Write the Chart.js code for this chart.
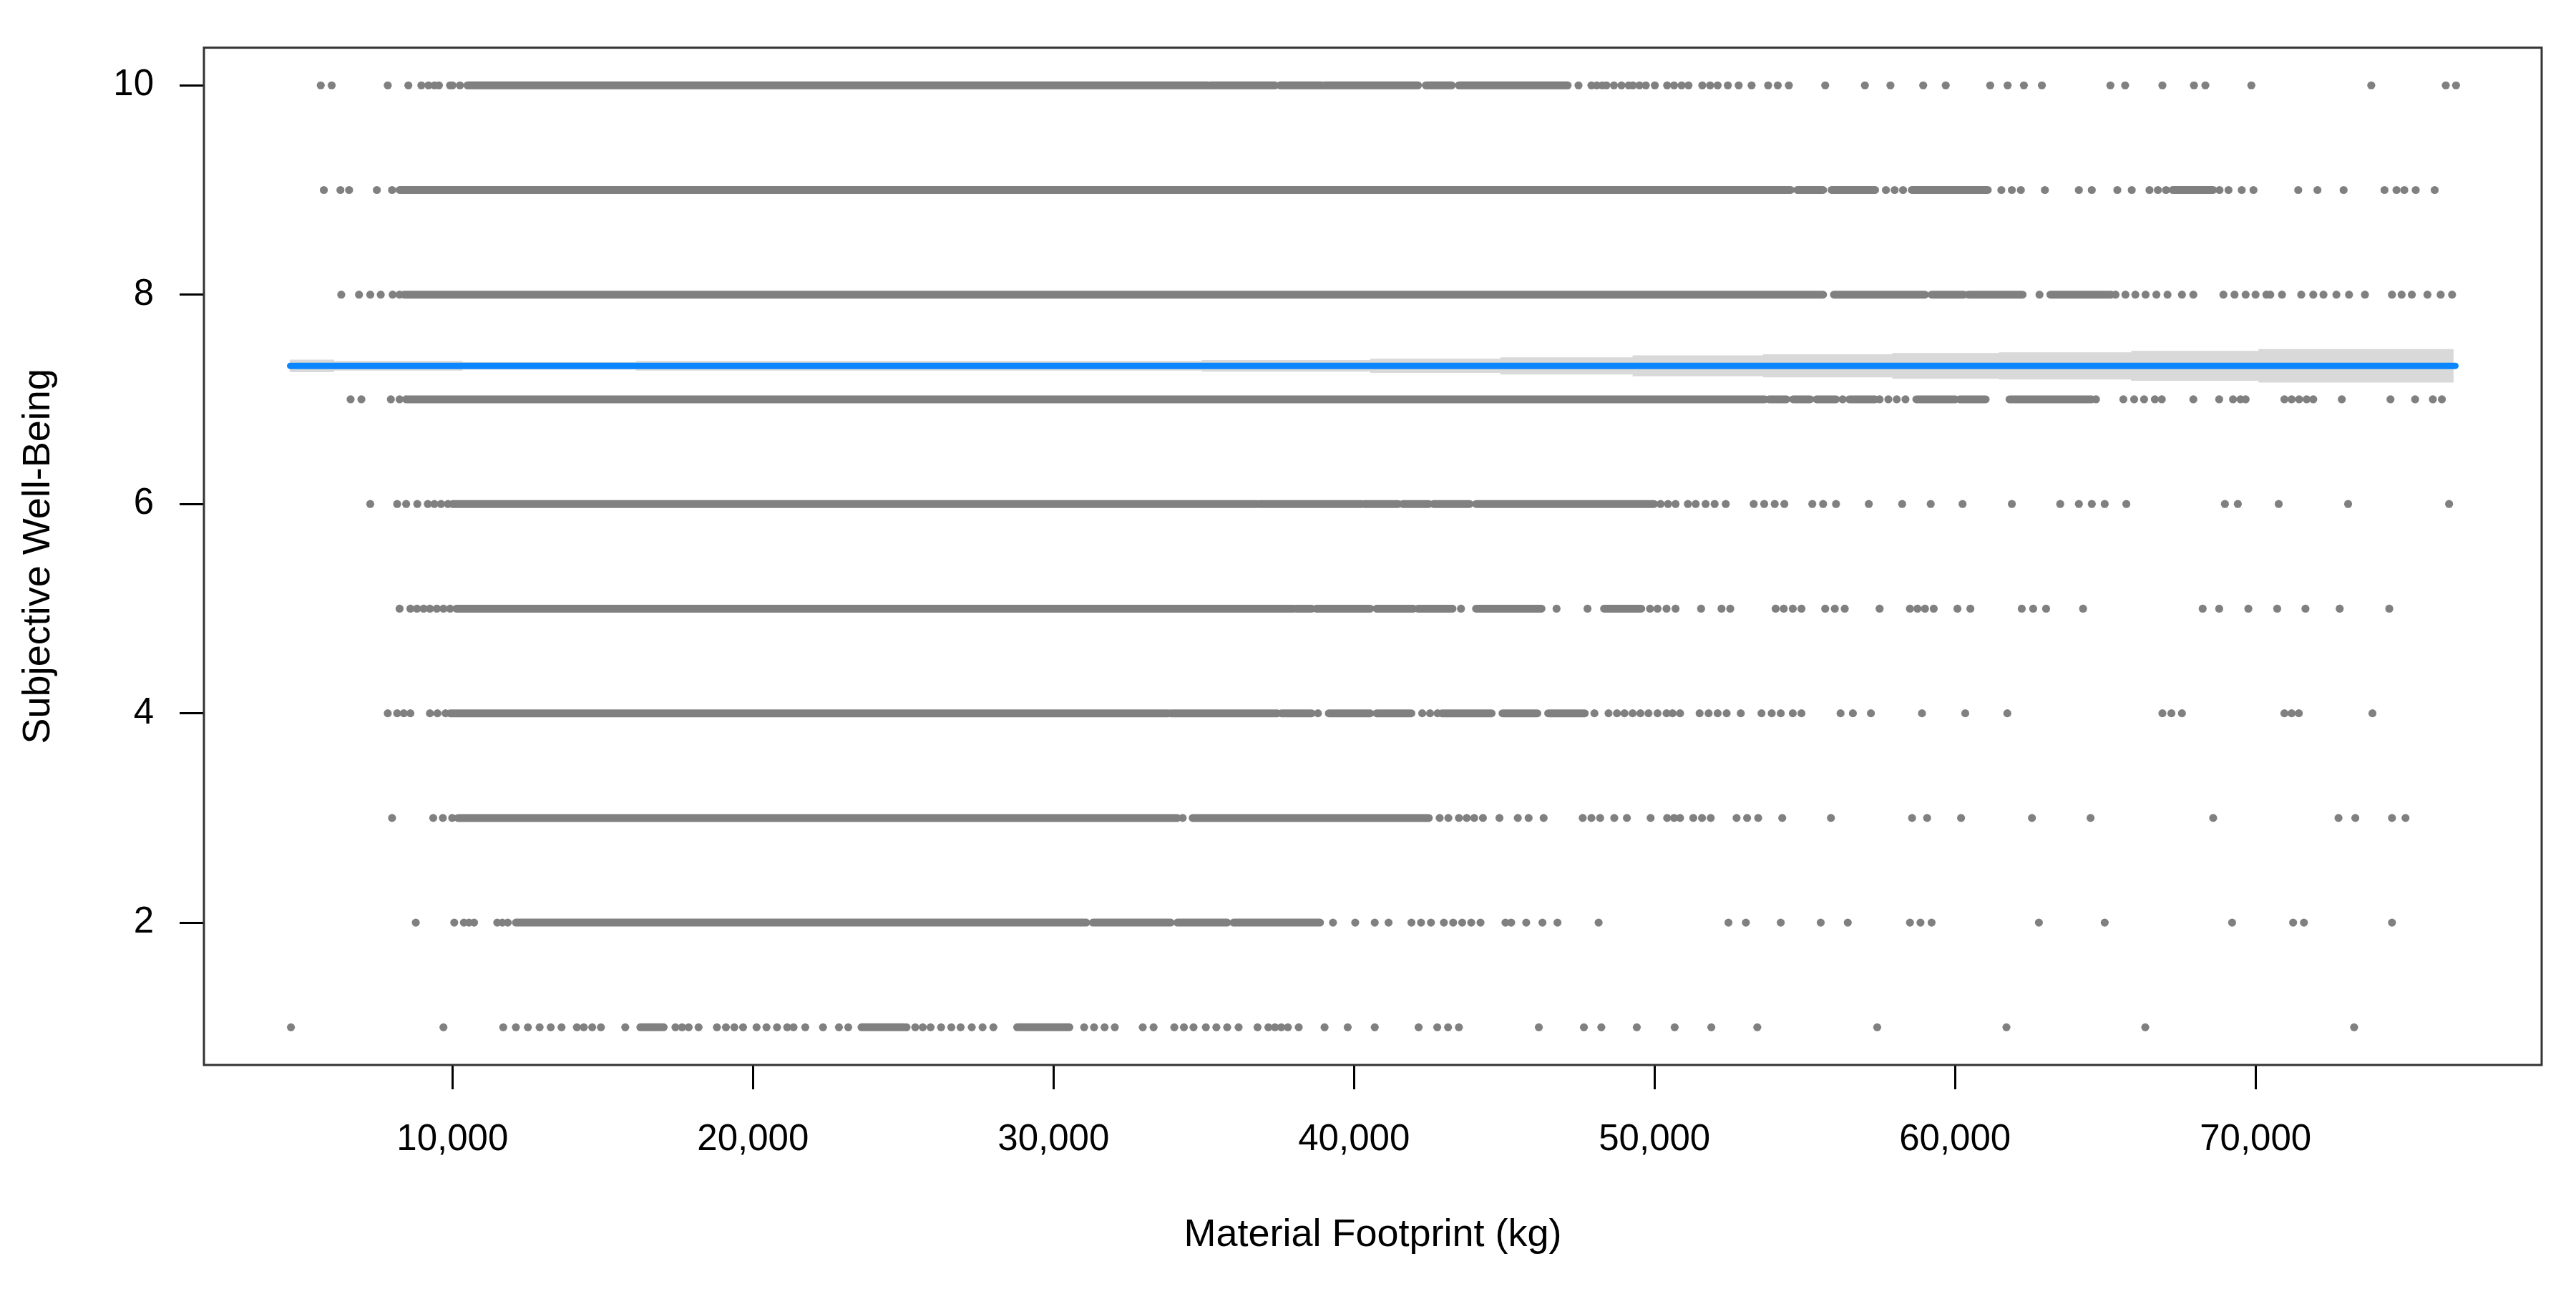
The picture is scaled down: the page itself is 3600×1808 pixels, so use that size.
<!DOCTYPE html>
<html>
<head>
<meta charset="utf-8">
<script src="https://cdn.jsdelivr.net/npm/chart.js@4.4.1/dist/chart.umd.min.js"></script>
<style>
html,body{margin:0;padding:0;background:#fff;}
#wrap{width:3600px;height:1808px;}
</style>
</head>
<body>
<div id="wrap"><canvas id="c" width="3600" height="1808"></canvas></div>
<script>
// ---- axis settings ----
const xTickValues = [10000, 20000, 30000, 40000, 50000, 60000, 70000];
const yTickValues = [2, 4, 6, 8, 10];
const xTitle = 'Material Footprint (kg)';
const yTitle = 'Subjective Well-Being';

// ---- observations: isolated points per response level ----
const row10Points = [5617, 5981, 7847, 8532, 8965, 9200, 9405, 9550, 9920, 10000, 10250, 47470, 47900, 48080, 48260, 48400, 48650, 48900, 49140, 49280, 49500, 49710, 50010, 50420, 50650, 50900, 51130, 51590, 51850, 52100, 52440, 52800, 53230, 53780, 54100, 54470, 55680, 57000, 57850, 58940, 59690, 61170, 61750, 62290, 62890, 65170, 65660, 66900, 67950, 68330, 69860, 73850, 76330, 76670];
const row9Points = [5720, 6272, 6561, 7483, 7990, 57700, 57990, 58270, 61540, 61890, 62190, 62990, 64120, 64550, 65400, 65880, 66470, 66750, 67020, 68800, 69100, 69540, 69930, 71420, 72060, 72930, 74290, 74690, 74950, 75330, 75960];
const row8Points = [6300, 6890, 7265, 7614, 8010, 8240, 62810, 65340, 65670, 66000, 66340, 66700, 67070, 67550, 67930, 68930, 69300, 69670, 70000, 70360, 70490, 70880, 71520, 71920, 72260, 72690, 73110, 73640, 74540, 74860, 75200, 75720, 76160, 76540];
const row7Points = [6610, 6970, 7950, 8240, 8460, 56260, 57490, 57780, 58060, 58350, 64690, 65600, 65960, 66290, 66650, 66880, 67930, 68790, 69250, 69500, 69670, 70960, 71200, 71450, 71700, 71920, 72870, 74490, 75310, 75900, 76200];
const row6Points = [7265, 8160, 8460, 8830, 9180, 9400, 9620, 9850, 50200, 50450, 50700, 51110, 51370, 51700, 52000, 52370, 53300, 53650, 54000, 54320, 55250, 55610, 56040, 57130, 58240, 59190, 60250, 61890, 63500, 64120, 64550, 64980, 65700, 68980, 69410, 70770, 73080, 76440];
const row5Points = [8240, 8600, 8820, 9040, 9250, 9480, 9700, 9920, 43560, 46740, 47770, 49850, 50100, 50400, 50700, 51550, 52230, 52520, 54030, 54300, 54600, 54890, 55680, 56000, 56330, 57490, 58500, 58750, 59000, 59290, 60080, 60510, 62220, 62600, 63030, 64260, 68240, 68790, 69760, 70720, 71660, 72800, 74450];
const row4Points = [7847, 8160, 8380, 8600, 9250, 9500, 9770, 38800, 42270, 42530, 42780, 48000, 48470, 48750, 49000, 49270, 49530, 49800, 50100, 50400, 50600, 50850, 51500, 51800, 52100, 52400, 52870, 53560, 53900, 54200, 54600, 54890, 56190, 56600, 57200, 58900, 60340, 61740, 66900, 67200, 67550, 70960, 71200, 71440, 73890];
const row3Points = [7990, 9360, 9680, 9990, 34300, 42850, 43140, 43490, 43750, 44000, 44290, 44840, 45450, 45810, 46310, 47610, 47900, 48190, 48660, 49080, 49870, 50420, 50650, 50850, 51290, 51580, 51870, 52730, 53080, 53450, 54250, 55870, 58570, 59070, 60200, 62560, 64510, 68590, 72760, 73320, 74540, 74990];
const row2Points = [8780, 10060, 10380, 10550, 10720, 11490, 11660, 11840, 39300, 40040, 40690, 41150, 41910, 42230, 42560, 42990, 43300, 43600, 43900, 44210, 45040, 45230, 45730, 46270, 46770, 48140, 52460, 53040, 54200, 55530, 56430, 58500, 58850, 59220, 62790, 64980, 69220, 71250, 71610, 74540];
const row1Points = [4625, 9700, 11690, 12110, 12510, 12900, 13270, 13630, 14140, 14370, 14650, 14940, 15750, 17420, 17640, 17860, 18190, 18800, 19100, 19380, 19670, 20120, 20450, 20800, 21140, 21350, 21740, 22330, 22860, 23170, 25110, 25400, 25650, 25910, 26260, 26600, 26910, 27280, 27640, 28000, 31020, 31350, 31700, 32040, 32970, 33330, 34020, 34340, 34660, 35070, 35420, 35780, 36160, 36790, 37150, 37370, 37580, 37800, 38160, 39020, 39790, 40690, 42150, 42770, 43130, 43490, 46150, 47650, 48230, 49410, 50670, 51890, 53420, 57410, 61710, 66330, 73280];

// ---- observations: runs of overlapping points (start, end) per level ----
const row10Dense = [[10500, 35130], [35210, 37370], [37540, 38930], [39020, 42130], [42390, 43250], [43490, 47110]];
const row9Dense = [[8240, 54530], [54750, 55610], [55890, 57340], [58560, 61090], [67240, 68590]];
const row8Dense = [[8385, 55610], [55970, 59000], [59220, 60290], [60440, 62250], [63170, 65190]];
const row7Dense = [[8530, 53670], [53810, 54390], [54610, 55180], [55390, 56040], [56480, 57340], [58710, 60010], [60150, 61020], [61810, 64550]];
const row6Dense = [[10000, 36790], [36850, 40260], [40330, 41470], [41620, 42490], [42640, 43850], [44060, 49990]];
const row5Dense = [[10130, 38020], [38090, 38590], [38740, 40540], [40750, 41980], [42130, 43280], [44060, 46240], [48320, 49560]];
const row4Dense = [[9920, 33830], [33900, 37450], [37580, 38590], [39160, 40540], [40750, 41910], [42920, 44580], [44940, 46100], [46460, 47680]];
const row3Dense = [[10180, 34120], [34630, 42490]];
const row2Dense = [[12110, 31090], [31310, 33900], [34120, 35780], [35990, 38870]];
const row1Dense = [[16250, 17030], [23610, 25040], [28790, 30530]];

// ---- fitted line and confidence band ----
const regX = [4600, 76650];
const regY = [7.32, 7.32];
const bandX = [4587, 6060, 10340, 16100, 34930, 40540, 44870, 49270, 53610, 57910, 61460, 65860, 70100, 73760, 76590];
const bandUpper = [7.395, 7.38, 7.365, 7.355, 7.365, 7.375, 7.388, 7.402, 7.42, 7.43, 7.443, 7.45, 7.463, 7.48, 7.48];
const bandLower = [7.245, 7.26, 7.275, 7.285, 7.275, 7.265, 7.252, 7.238, 7.22, 7.21, 7.197, 7.19, 7.177, 7.16, 7.16];

// ---- assemble ----
const levels = [10, 9, 8, 7, 6, 5, 4, 3, 2, 1];
const pointRows = [row10Points, row9Points, row8Points, row7Points, row6Points, row5Points, row4Points, row3Points, row2Points, row1Points];
const denseRows = [row10Dense, row9Dense, row8Dense, row7Dense, row6Dense, row5Dense, row4Dense, row3Dense, row2Dense, row1Dense];

const pointData = [];
const denseData = [];
levels.forEach((lv, i) => {
  pointRows[i].forEach(x => pointData.push({x: x, y: lv}));
  denseRows[i].forEach(seg => {
    denseData.push({x: seg[0], y: lv});
    denseData.push({x: seg[1], y: lv});
    denseData.push({x: seg[1], y: null});
  });
});
const bandUpperData = bandX.map((x, i) => ({x: x, y: bandUpper[i]}));
const bandLowerData = bandX.map((x, i) => ({x: x, y: bandLower[i]}));
const regData = regX.map((x, i) => ({x: x, y: regY[i]}));

const FONT = "'Liberation Sans', Arial, sans-serif";
const GRAY = '#808080';

const boxPlugin = {
  id: 'box',
  afterDraw(chart) {
    const a = chart.chartArea, ctx = chart.ctx;
    ctx.save();
    ctx.strokeStyle = '#333333';
    ctx.lineWidth = 3;
    ctx.strokeRect(a.left, a.top, a.right - a.left, a.bottom - a.top);
    ctx.restore();
  }
};

new Chart(document.getElementById('c'), {
  type: 'scatter',
  data: {
    datasets: [
      {
        label: 'fit', data: regData, showLine: true, order: 0,
        borderColor: '#0A86FF', borderWidth: 9, borderCapStyle: 'round',
        pointRadius: 0, fill: false
      },
      {
        label: 'upper', data: bandUpperData, showLine: true, order: 1, stepped: 'after',
        borderColor: 'rgba(0,0,0,0)', borderWidth: 0, pointRadius: 0,
        backgroundColor: '#D9D9D9', fill: '+1'
      },
      {
        label: 'lower', data: bandLowerData, showLine: true, order: 2, stepped: 'after',
        borderColor: 'rgba(0,0,0,0)', borderWidth: 0, pointRadius: 0, fill: false
      },
      {
        label: 'points', data: pointData, order: 3,
        backgroundColor: GRAY, borderWidth: 0, pointRadius: 5.6, pointHoverRadius: 5.6
      },
      {
        label: 'dense', data: denseData, showLine: true, spanGaps: false, order: 4,
        borderColor: GRAY, borderWidth: 11, borderCapStyle: 'round',
        pointRadius: 0, fill: false
      }
    ]
  },
  options: {
    responsive: false,
    maintainAspectRatio: false,
    devicePixelRatio: 1,
    animation: false,
    events: [],
    layout: {padding: {top: 62, right: 48, left: 0, bottom: 0}},
    plugins: {legend: {display: false}, tooltip: {enabled: false}},
    scales: {
      x: {
        type: 'linear', position: 'bottom',
        min: 1730, max: 79520,
        afterFit(s) { s.height = 320; },
        afterBuildTicks(s) { s.ticks = xTickValues.map(v => ({value: v})); },
        grid: {drawOnChartArea: false, drawTicks: true, tickLength: 34, tickWidth: 3, tickColor: '#000', color: '#000'},
        border: {display: false},
        ticks: {
          padding: 40, color: '#000', maxRotation: 0, autoSkip: false,
          font: {family: FONT, size: 51},
          callback: v => Number(v).toLocaleString('en-US')
        },
        title: {display: true, text: xTitle, color: '#000', font: {family: FONT, size: 54}, padding: {top: 0, bottom: 49}}
      },
      y: {
        type: 'linear', position: 'left',
        min: 0.64, max: 10.36,
        afterFit(s) { s.width = 285; },
        afterBuildTicks(s) { s.ticks = yTickValues.map(v => ({value: v})); },
        grid: {drawOnChartArea: false, drawTicks: true, tickLength: 34, tickWidth: 3, tickColor: '#000', color: '#000'},
        border: {display: false},
        ticks: {
          padding: 36, color: '#000', autoSkip: false,
          font: {family: FONT, size: 51},
          callback: v => String(v)
        },
        title: {display: true, text: yTitle, color: '#000', font: {family: FONT, size: 54}, padding: {top: 22, bottom: 0}}
      }
    }
  },
  plugins: [boxPlugin]
});
</script>
</body>
</html>
